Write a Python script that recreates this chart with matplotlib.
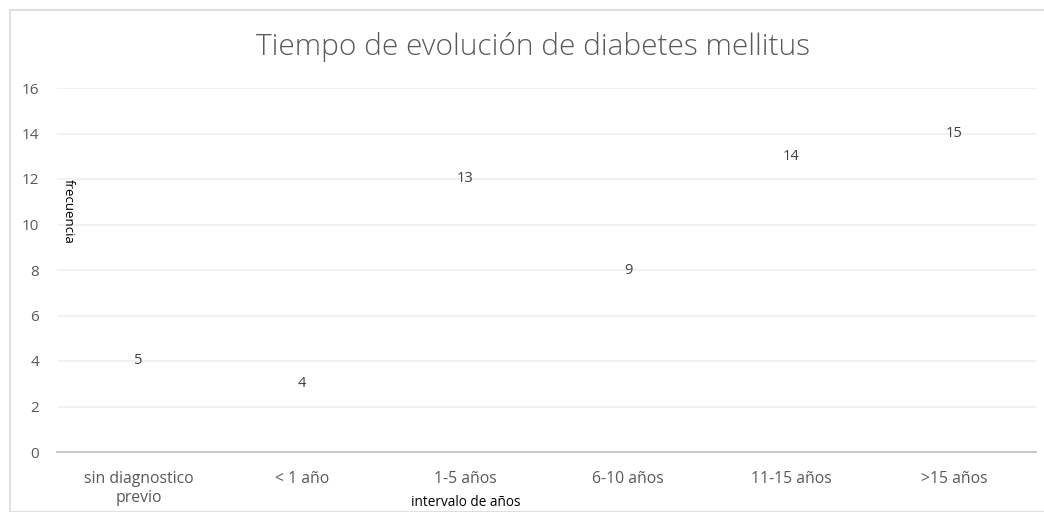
import matplotlib
matplotlib.use("Agg")
import matplotlib.pyplot as plt
from matplotlib.patches import Rectangle

categories = ["sin diagnostico\nprevio", "< 1 año", "1-5 años", "6-10 años", "11-15 años", ">15 años"]
values = [5, 4, 13, 9, 14, 15]
yticks = [0, 2, 4, 6, 8, 10, 12, 14, 16]

W, H = 1044, 512
fig = plt.figure(figsize=(W / 100, H / 100), dpi=100)
plt.rcParams['font.family'] = ['Open Sans', 'DejaVu Sans']

# chart border
fig.patches.append(Rectangle((10 / W, 0), 1.2, 1 - 10 / H, transform=fig.transFigure,
                             fill=False, edgecolor='#d9d9d9', linewidth=1.2))

ax = fig.add_axes([57 / W, 1 - 452 / H, (1036 - 57) / W, (452 - 88) / H])
x = list(range(len(categories)))
bars = ax.bar(x, values, width=0.6, fill=False, linewidth=0)
for xi, v in zip(x, values):
    ax.text(xi, v - 1, str(v), ha='center', va='center', fontsize=10.5, color='#404040')

ax.set_xlim(-0.5, len(categories) - 0.5)
ax.set_ylim(0, 16)
ax.set_yticks(yticks)
ax.set_xticks(x)
ax.set_xticklabels(categories, fontsize=11.3, color='#595959', linespacing=1.2)
ax.tick_params(axis='y', labelsize=11, labelcolor='#595959', length=0, pad=13)
ax.tick_params(axis='x', length=0, pad=14)
ax.grid(axis='y', color='#efefef', linewidth=1.2)
ax.set_axisbelow(True)
for s in ['top', 'right', 'left']:
    ax.spines[s].set_visible(False)
ax.spines['bottom'].set_color('#c4c4c4')
ax.spines['bottom'].set_linewidth(1.3)

fig.text(533 / W, 1 - 47 / H, "Tiempo de evolución de diabetes mellitus", ha='center', va='center',
         fontsize=21.5, color='#595959', fontweight='light')
fig.text(68 / W, 1 - 211 / H, "frecuencia", rotation=-90, ha='center', va='center',
         fontsize=9.5, color='black')
fig.text(466 / W, 1 - 502 / H, "intervalo de años", ha='center', va='center',
         fontsize=9.8, color='black')

fig.savefig("out.png", dpi=100)
